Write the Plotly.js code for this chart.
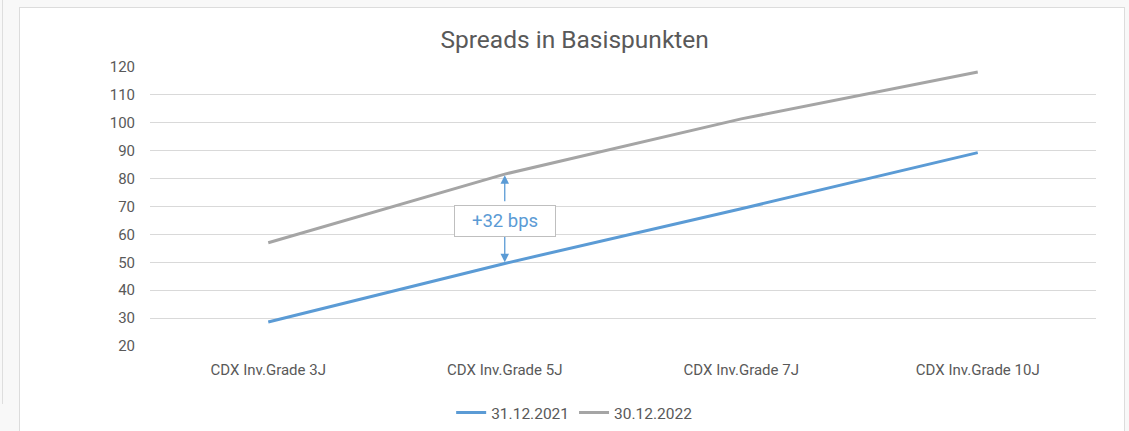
<!DOCTYPE html>
<html>
<head>
<meta charset="utf-8">
<script src="https://cdn.plot.ly/plotly-3.0.1.min.js"></script>
<style>
  html, body { margin: 0; padding: 0; width: 1129px; height: 431px; overflow: hidden; background: #f8f8f8; }
  #edge { position: absolute; left: 2px; top: 0; width: 0; height: 404px; border-left: 1px solid #dedede; }
  #panel { position: absolute; left: 19px; top: 7px; width: 1104px; height: 430px; background: #ffffff; border: 1px solid #dcdcdc; }
  #chart { position: absolute; left: 0; top: 0; width: 1129px; height: 431px; }
</style>
</head>
<body>
<div id="edge"></div>
<div id="panel"></div>
<div id="chart"></div>
<script>
const categories = ["CDX Inv.Grade 3J", "CDX Inv.Grade 5J", "CDX Inv.Grade 7J", "CDX Inv.Grade 10J"];
const series2021 = [28.6, 49.6, 69.2, 89.3];
const series2022 = [57.0, 81.6, 101.4, 118.2];
const seriesNames = ["31.12.2021", "30.12.2022"];
const yTicks = [20, 30, 40, 50, 60, 70, 80, 90, 100, 110, 120];
const spreadLabel = "+32 bps";
const spreadIndex = 1;

const blue = "#5b9bd5";
const grey = "#a5a5a5";
const txt = "#595959";

const traces = [
  { x: categories, y: series2021, name: seriesNames[0], type: "scatter", mode: "lines",
    line: { color: blue, width: 3 } },
  { x: categories, y: series2022, name: seriesNames[1], type: "scatter", mode: "lines",
    line: { color: grey, width: 3 } }
];

const lo = series2021[spreadIndex], hi = series2022[spreadIndex];
const mid = (lo + hi) / 2;
const cat = categories[spreadIndex];

const layout = {
  width: 1129, height: 431,
  paper_bgcolor: "rgba(0,0,0,0)", plot_bgcolor: "rgba(0,0,0,0)",
  margin: { l: 150, r: 33, t: 67, b: 85 },
  font: { family: "Roboto, sans-serif", color: txt, size: 15 },
  title: { text: "Spreads in Basispunkten", font: { size: 24.5, color: txt }, x: 0.509, xref: "container", xanchor: "center", y: 0.908, yanchor: "middle" },
  xaxis: { range: [-0.5, 3.5], showgrid: false, zeroline: false, showline: false, ticks: "", tickfont: { size: 15, color: txt },
           ticklabelstandoff: 13, automargin: false },
  yaxis: { range: [20, 120], tickvals: yTicks, showgrid: true, gridcolor: "#d9d9d9", gridwidth: 1,
           zeroline: false, showline: false, ticks: "", tickfont: { size: 15, color: txt }, ticklabelstandoff: 14, automargin: false },
  showlegend: true,
  legend: { orientation: "h", xref: "container", yref: "container", x: 0.509, xanchor: "center", y: 0.042, yanchor: "middle",
            font: { size: 15.5, color: txt }, itemwidth: 30, tracegroupgap: 0 },
  annotations: [
    { x: cat, y: hi - 0.4, ax: cat, ay: mid + 5.7, xref: "x", yref: "y", axref: "x", ayref: "y",
      text: "", showarrow: true, arrowhead: 2, arrowsize: 1.3, arrowwidth: 1.3, arrowcolor: blue },
    { x: cat, y: lo + 0.4, ax: cat, ay: mid - 5.7, xref: "x", yref: "y", axref: "x", ayref: "y",
      text: "", showarrow: true, arrowhead: 2, arrowsize: 1.3, arrowwidth: 1.3, arrowcolor: blue },
    { x: cat, y: mid - 0.7, xref: "x", yref: "y", text: spreadLabel, showarrow: false,
      font: { size: 18.5, color: blue }, bgcolor: "#ffffff", bordercolor: "#bfbfbf", borderwidth: 1,
      borderpad: 5, width: 90, height: 20 }
  ]
};

Plotly.newPlot("chart", traces, layout, { displayModeBar: false, staticPlot: true });
</script>
</body>
</html>
